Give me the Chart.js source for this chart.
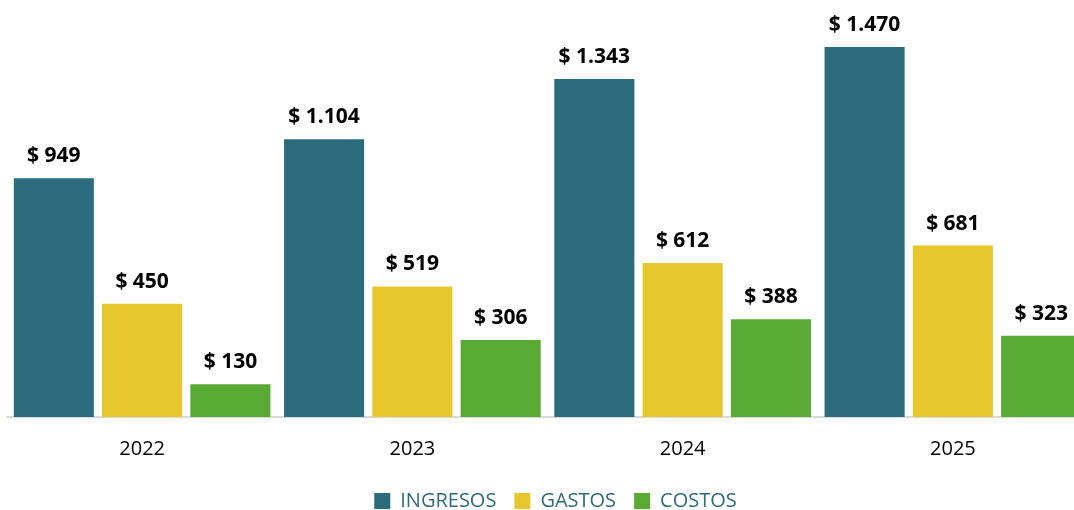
<!DOCTYPE html>
<html lang="es">
<head>
  <meta charset="UTF-8">
  <title>Ingresos, gastos y costos</title>
  <script src="https://cdn.jsdelivr.net/npm/chart.js"></script>
  <style>
    body { margin: 0; overflow: hidden; background: #fff; }
  </style>
</head>
<body>
  <canvas id="grafico" width="1088" height="521"></canvas>

  <script>
    // Datos del gráfico
    const anios = ['2022', '2023', '2024', '2025'];
    const ingresos = [949, 1104, 1343, 1470];
    const gastos = [450, 519, 612, 681];
    const costos = [130, 306, 388, 323];

    // formato "$ 1.104"
    function fmt(v) {
      const s = String(v);
      return '$ ' + (s.length > 3 ? s.slice(0, s.length - 3) + '.' + s.slice(-3) : s);
    }

    // etiquetas encima de las barras
    const etiquetas = {
      id: 'etiquetas',
      afterDatasetsDraw(chart) {
        const ctx = chart.ctx;
        ctx.save();
        ctx.font = 'bold 21px "Open Sans"';
        ctx.fillStyle = '#000';
        ctx.textAlign = 'center';
        ctx.textBaseline = 'alphabetic';
        chart.data.datasets.forEach((ds, i) => {
          chart.getDatasetMeta(i).data.forEach((bar, j) => {
            ctx.fillText(fmt(ds.data[j]), bar.x, bar.y - 16);
          });
        });
        ctx.restore();
      }
    };

    // mover un poco la leyenda a la derecha
    const moverLeyenda = {
      id: 'moverLeyenda',
      afterLayout(chart) {
        chart.legend.left += 8;
        chart.legend.right += 8;
      }
    };

    const ctx = document.getElementById('grafico').getContext('2d');
    new Chart(ctx, {
      type: 'bar',
      data: {
        labels: anios,
        datasets: [
          { label: 'INGRESOS', data: ingresos, backgroundColor: '#2c6b7c' },
          { label: 'GASTOS', data: gastos, backgroundColor: '#e6c82e' },
          { label: 'COSTOS', data: costos, backgroundColor: '#58aa34' }
        ]
      },
      options: {
        responsive: false,
        animation: false,
        categoryPercentage: 0.98,
        barPercentage: 0.907,
        layout: { padding: { left: 7, right: 0, top: 0, bottom: 0 } },
        plugins: {
          legend: {
            position: 'bottom',
            labels: {
              color: '#2e6b7d',
              font: { family: '"Open Sans"', size: 20 },
              boxWidth: 16,
              boxHeight: 16,
              padding: 18
            }
          },
          tooltip: { enabled: false }
        },
        scales: {
          y: {
            display: false,
            min: 0,
            max: 1657
          },
          x: {
            grid: { display: false },
            border: { color: '#d9d9d9', width: 2 },
            ticks: {
              color: '#000',
              font: { family: '"Open Sans"', size: 20 },
              padding: 12
            }
          }
        }
      },
      plugins: [etiquetas, moverLeyenda]
    });
  </script>
</body>
</html>
